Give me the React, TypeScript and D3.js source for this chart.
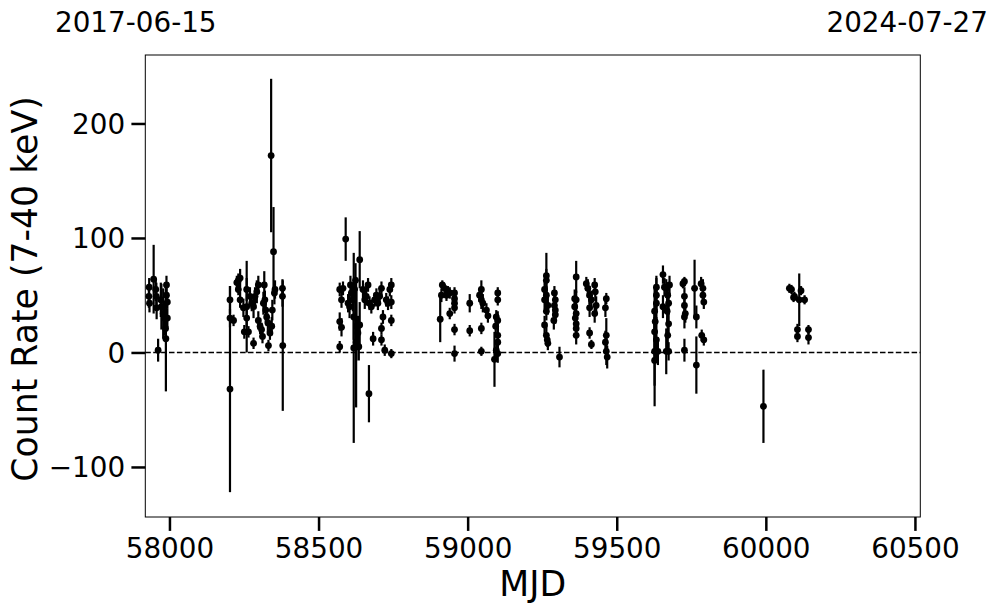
import * as d3 from 'd3';

import { useCallback } from 'react';

// [MJD, count rate, 1-sigma error]
const season2017 = [
  [57931, 49, 10], [57932, 57, 8], [57933, 43, 8], [57947, 64, 30], [57954, 55, 10],
  [57956, 49, 12], [57957, 39, 10], [57962, 2, 10], [57971, 46, 15], [57973, 40, 20],
  [57979, 34, 22], [57984, 30, 15], [57987, 21, 10], [57988, 12, 46], [57990, 59, 8],
  [57990, 50, 8], [57993, 44, 6], [57993, 30, 8],
];

const season2018 = [
  [58203, 46, 12], [58203, 30, 8], [58203, -32, 90], [58215, 28, 5], [58226, 61, 6],
  [58231, 63, 6], [58231, 55, 5], [58237, 65, 8], [58237, 46, 7], [58248, 39, 8],
  [58251, 18, 6], [58259, 55, 10], [58259, 40, 40], [58259, 30, 8], [58265, 18, 5],
  [58270, 49, 8], [58276, 43, 7], [58282, 8, 5], [58282, 40, 10], [58287, 49, 8],
  [58293, 53, 10], [58298, 59, 8], [58298, 28, 8], [58304, 23, 7], [58309, 20, 6],
  [58312, 14, 6], [58315, 43, 10], [58318, 59, 12], [58320, 46, 8], [58323, 37, 10],
  [58326, 31, 8], [58330, 26, 8], [58332, 6, 5], [58337, 17, 6], [58341, 172, 67],
  [58343, 23, 8], [58345, 37, 9], [58349, 88, 39], [58352, 52, 10], [58354, 55, 8],
  [58379, 56, 8], [58379, 49, 9], [58380, 6, 57],
];

const season2019 = [
  [58571, 55, 6], [58571, 27, 8], [58571, 5, 5], [58577, 46, 7], [58577, 22, 8],
  [58582, 56, 6], [58591, 99, 19], [58599, 43, 8], [58604, 40, 10], [58607, 59, 8],
  [58610, 52, 8], [58615, 46, 10], [58618, 31, 20], [58618, 4, 83], [58621, 55, 10],
  [58624, 63, 15], [58626, 9, 57], [58627, 23, 30], [58632, 17, 15], [58635, 5, 12],
  [58638, 24, 20], [58638, 81, 25], [58649, 55, 8], [58655, 46, 8], [58660, 49, 8],
  [58666, 59, 6], [58669, -36, 25], [58671, 43, 6], [58677, 40, 6], [58683, 12, 6],
  [58688, 46, 6], [58694, 50, 6], [58699, 43, 6], [58705, 49, 6], [58711, 56, 6],
  [58711, 21, 5], [58711, 11, 5], [58716, 31, 6], [58722, 2, 5], [58727, 46, 6],
  [58733, 43, 6], [58739, 55, 6], [58744, 59, 6], [58744, 44, 6], [58744, 28, 5],
  [58744, -1, 4],
];

const season2020 = [
  [58908, 29, 20], [58912, 50, 6], [58915, 59, 4], [58923, 56, 4], [58929, 50, 5],
  [58934, 53, 5], [58940, 52, 5], [58940, 34, 5], [58956, 52, 5], [58956, 47, 5],
  [58956, 43, 5], [58956, 39, 5], [58956, 20, 5], [58956, -1, 7], [59007, 43, 8],
  [59007, 19, 5], [59040, 50, 6], [59046, 55, 8], [59046, 46, 8], [59046, 21, 5],
  [59046, 1, 4], [59051, 43, 8], [59063, 37, 6], [59068, 32, 6], [59090, -6, 24],
  [59094, 23, 8], [59096, 31, 6], [59096, 2, 6], [59101, 52, 5], [59101, 46, 5],
  [59101, 28, 8], [59101, 15, 10], [59101, 9, 12], [59101, -1, 8],
];

const season2021 = [
  [59258, 55, 8], [59258, 46, 8], [59258, 24, 8], [59264, 67, 20], [59264, 63, 10],
  [59264, 50, 8], [59264, 36, 8], [59264, 15, 8], [59267, 11, 6], [59269, 41, 8],
  [59269, 8, 6], [59289, 28, 8], [59291, 52, 6], [59291, 41, 8], [59294, 46, 8],
  [59294, 37, 8], [59294, 33, 8], [59308, -4, 9], [59359, 47, 8], [59359, 40, 8],
  [59361, 30, 8], [59364, 66, 14], [59364, 46, 8], [59364, 34, 8], [59364, 25, 8],
  [59364, 21, 8], [59364, 15, 8], [59398, 60, 6], [59403, 56, 8], [59409, 50, 8],
  [59409, 39, 8], [59409, 17, 5], [59415, 46, 8], [59415, 7, 4], [59426, 59, 6],
  [59426, 34, 8], [59428, 53, 8], [59431, 41, 8], [59462, 39, 8], [59462, 9, 10],
  [59465, 47, 5], [59465, 15, 15], [59465, 1, 12], [59468, -4, 10],
];

const season2022 = [
  [59627, 36, 20], [59627, 18, 25], [59627, 1, 30], [59627, -7, 40], [59629, 27, 25],
  [59633, 57, 10], [59633, 50, 15], [59633, 43, 15], [59633, 11, 20], [59638, 1, 12],
  [59655, 68, 8], [59655, 40, 10], [59660, 57, 8], [59666, 56, 8], [59666, 1, 20],
  [59669, 36, 12], [59671, 50, 10], [59671, 15, 15], [59674, 43, 10], [59674, 25, 10],
  [59674, 1, 8], [59677, 59, 8], [59722, 60, 4], [59727, 62, 4], [59727, 49, 8],
  [59727, 41, 8], [59727, 31, 10], [59727, 2, 10], [59730, 34, 8], [59761, 56, 25],
  [59767, 31, 10], [59767, -11, 25], [59783, 60, 6], [59785, 15, 5], [59789, 56, 8],
  [59789, 50, 8], [59792, 44, 6], [59792, 11, 5],
];

const season2023 = [
  [59992, -47, 32], [60079, 56, 4], [60086, 55, 4], [60093, 48, 4], [60096, 49, 4],
  [60106, 20, 5], [60106, 14, 5], [60112, 46, 23], [60118, 54, 4], [60130, 46, 4],
  [60143, 20, 4], [60143, 13, 6],
];

const seasons = [season2017, season2018, season2019, season2020, season2021, season2022, season2023];

const xTicks = [58000, 58500, 59000, 59500, 60000, 60500];
const yTicks = [-100, 0, 100, 200];
const mjdRange = [57919, 60518];
const rateRange = [-143.7, 259.8];
const startDate = '2017-06-15';
const endDate = '2024-07-27';

const width = 997;
const height = 613;
const margin = { top: 55, right: 76.7, bottom: 96, left: 145.3 };
const font = 'DejaVu Sans';

const App = () => {
  const draw = useCallback((ref: SVGSVGElement | null) => {
    if (!ref) return;

    const svg = d3.select(ref);
    svg.selectAll('*').remove();

    const xScale = d3
      .scaleLinear()
      .domain(mjdRange)
      .range([margin.left, width - margin.right]);

    const yScale = d3
      .scaleLinear()
      .domain(rateRange)
      .range([height - margin.bottom, margin.top]);

    svg.append('rect').attr('width', width).attr('height', height).attr('fill', 'white');

    // zero line
    svg
      .append('line')
      .attr('x1', margin.left)
      .attr('x2', width - margin.right)
      .attr('y1', yScale(0))
      .attr('y2', yScale(0))
      .attr('stroke', 'black')
      .attr('stroke-width', 1.5)
      .attr('stroke-dasharray', '5.5,2.4');

    const points = seasons.flat();

    svg
      .append('g')
      .selectAll('line')
      .data(points)
      .join('line')
      .attr('x1', (d) => xScale(d[0]))
      .attr('x2', (d) => xScale(d[0]))
      .attr('y1', (d) => yScale(d[1] - d[2]))
      .attr('y2', (d) => yScale(d[1] + d[2]))
      .attr('stroke', 'black')
      .attr('stroke-width', 2.2);

    svg
      .append('g')
      .selectAll('circle')
      .data(points)
      .join('circle')
      .attr('cx', (d) => xScale(d[0]))
      .attr('cy', (d) => yScale(d[1]))
      .attr('r', 3.4)
      .attr('fill', 'black');

    const xAxis = svg
      .append('g')
      .attr('transform', `translate(0, ${height - margin.bottom})`)
      .call(d3.axisBottom(xScale).tickValues(xTicks).tickFormat(d3.format('d')).tickSize(13.9).tickPadding(7.7));

    const yAxis = svg
      .append('g')
      .attr('transform', `translate(${margin.left}, 0)`)
      .call(d3.axisLeft(yScale).tickValues(yTicks).tickSize(13.9).tickPadding(6.3));
    yAxis.selectAll('text').attr('dy', '0.36em');

    [xAxis, yAxis].forEach((axis) => {
      axis.select('.domain').remove();
      axis.selectAll('line').attr('stroke', 'black').attr('stroke-width', 2.5);
      axis.selectAll('text').attr('fill', 'black').style('font-family', font).style('font-size', '27.8px');
    });

    // frame
    svg
      .append('rect')
      .attr('x', margin.left)
      .attr('y', margin.top)
      .attr('width', width - margin.left - margin.right)
      .attr('height', height - margin.top - margin.bottom)
      .attr('fill', 'none')
      .attr('stroke', 'black')
      .attr('stroke-width', 1);

    svg
      .append('text')
      .attr('x', (margin.left + width - margin.right) / 2)
      .attr('y', 596)
      .attr('text-anchor', 'middle')
      .style('font-family', font)
      .style('font-size', '34.7px')
      .text('MJD');

    svg
      .append('text')
      .attr('transform', `translate(37, ${(margin.top + height - margin.bottom) / 2 + 3}) rotate(-90)`)
      .attr('text-anchor', 'middle')
      .style('font-family', font)
      .style('font-size', '34.7px')
      .text('Count Rate (7-40 keV)');

    svg
      .append('text')
      .attr('x', 55)
      .attr('y', 32)
      .attr('text-anchor', 'start')
      .style('font-family', font)
      .style('font-size', '27.8px')
      .text(startDate);

    svg
      .append('text')
      .attr('x', 988)
      .attr('y', 32)
      .attr('text-anchor', 'end')
      .style('font-family', font)
      .style('font-size', '27.8px')
      .text(endDate);
  }, []);

  return (
    <div style={{ position: 'absolute', left: 0, top: 0 }}>
      <svg width={width} height={height} ref={draw} style={{ display: 'block' }}></svg>
    </div>
  );
};

export default App;
